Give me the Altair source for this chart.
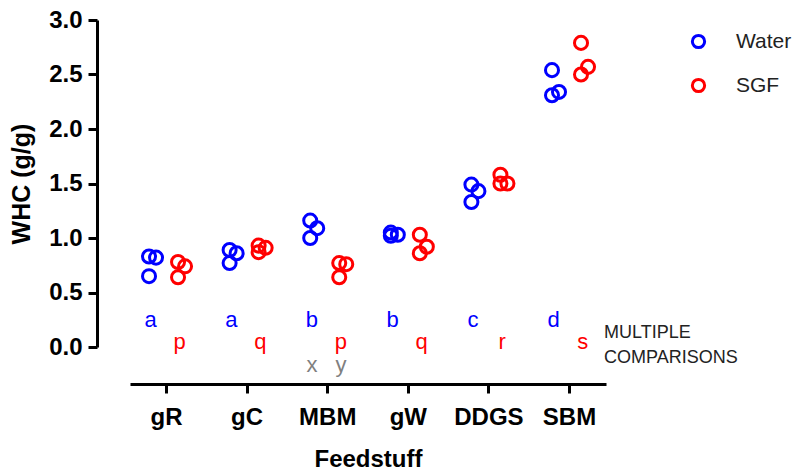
import altair as alt
import pandas as pd

# ---- data ----
feeds = ["gR", "gC", "MBM", "gW", "DDGS", "SBM"]
water = [[0.83, 0.82, 0.65], [0.89, 0.86, 0.77], [1.16, 1.09, 1.00],
         [1.05, 1.03, 1.02], [1.49, 1.43, 1.33], [2.54, 2.34, 2.31]]
sgf = [[0.78, 0.74, 0.64], [0.93, 0.91, 0.87], [0.77, 0.76, 0.64],
       [1.03, 0.92, 0.86], [1.58, 1.50, 1.50], [2.79, 2.57, 2.50]]
groups = ["Water", "SGF"]
water_letters = ["a", "a", "b", "b", "c", "d"]
sgf_letters = ["p", "q", "p", "q", "r", "s"]
extra_letters = [("MBM", "Water", "x"), ("MBM", "SGF", "y")]
note_lines = ["MULTIPLE", "COMPARISONS"]
y_ticks = [0, 0.5, 1.0, 1.5, 2.0, 2.5, 3.0]

FONT = "Liberation Sans"
BLUE, RED, GRAY = "#0000FF", "#FF0000", "#808080"

rows = []
for i, f in enumerate(feeds):
    for g, vals in (("Water", water[i]), ("SGF", sgf[i])):
        for r, v in enumerate(vals):
            rows.append({"feed": f, "idx": i, "group": g, "rep": r, "whc": v})
pts = pd.DataFrame(rows)

lrows = []
for i, f in enumerate(feeds):
    lrows.append({"idx": i, "group": "Water", "row": 0, "txt": water_letters[i], "col": BLUE})
    lrows.append({"idx": i, "group": "SGF", "row": 1, "txt": sgf_letters[i], "col": RED})
for f, g, t in extra_letters:
    lrows.append({"idx": feeds.index(f), "group": g, "row": 2, "txt": t, "col": GRAY})
letters = pd.DataFrame(lrows)

note = pd.DataFrame([{"xpos": 5.434, "ypos": 0.083, "txt": note_lines}])

xscale = alt.Scale(domain=[-0.447, 5.459], nice=False, zero=False)
yscale = alt.Scale(domain=[0, 3], nice=False, zero=False)

label_expr = "[" + ",".join("'%s'" % f for f in feeds) + "][datum.value]"

x_axis = alt.Axis(values=list(range(len(feeds))), labelExpr=label_expr, title="Feedstuff",
                  offset=37, grid=False, tickSize=9, tickWidth=3, domainWidth=3,
                  domainColor="black", tickColor="black", labelColor="black",
                  labelFont=FONT, labelFontSize=24, labelFontWeight="bold",
                  labelPadding=12, labelFlush=False, labelOverlap=False,
                  titleFont=FONT, titleFontSize=24, titleFontWeight="bold",
                  titleColor="black", titlePadding=18)
y_axis = alt.Axis(values=y_ticks, format=".1f", title="WHC (g/g)", offset=33,
                  grid=False, tickSize=9, tickWidth=3, domainWidth=3,
                  domainColor="black", tickColor="black", labelColor="black",
                  labelFont=FONT, labelFontSize=24, labelFontWeight="bold",
                  labelPadding=6, labelFlush=False, labelOverlap=False,
                  titleFont=FONT, titleFontSize=25, titleFontWeight="bold",
                  titleColor="black", titlePadding=14)

points = alt.Chart(pts).transform_calculate(
    xpos="datum.idx + (datum.group == 'Water' ? -0.211 : 0.149) + (datum.rep == 1 ? 0.087 : 0)"
).mark_point(filled=False, size=170, strokeWidth=3, opacity=1).encode(
    x=alt.X("xpos:Q", scale=xscale, axis=x_axis),
    y=alt.Y("whc:Q", scale=yscale, axis=y_axis),
    color=alt.Color("group:N", scale=alt.Scale(domain=groups, range=[BLUE, RED]),
                    legend=alt.Legend(title=None, orient="none", legendX=558, legendY=11,
                                      symbolType="circle", symbolSize=150,
                                      symbolStrokeWidth=3, labelFont=FONT,
                                      labelFontSize=21, labelColor="#222222",
                                      labelOffset=27, rowPadding=19, padding=0)),
)

letter_layer = alt.Chart(letters).transform_calculate(
    xpos="datum.idx + (datum.group == 'Water' ? -0.19 : 0.17)",
    ypos="datum.row == 0 ? 0.18 : (datum.row == 1 ? -0.014 : -0.23)",
).mark_text(font=FONT, fontSize=22, baseline="alphabetic", align="center").encode(
    x=alt.X("xpos:Q", scale=xscale),
    y=alt.Y("ypos:Q", scale=yscale),
    text="txt:N",
    color=alt.Color("col:N", scale=None),
)

note_layer = alt.Chart(note).mark_text(
    font=FONT, fontSize=18, baseline="alphabetic", align="left", lineHeight=25,
    color="#222222"
).encode(
    x=alt.X("xpos:Q", scale=xscale),
    y=alt.Y("ypos:Q", scale=yscale),
    text="txt",
)

chart = alt.layer(points, letter_layer, note_layer).properties(
    width=476, height=327,
    autosize=alt.AutoSizeParams(type="none"),
    padding={"left": 130, "top": 20, "right": 194, "bottom": 127},
    background="white",
).configure_view(stroke=None)

chart.save("out.html", embed_options={"renderer": "svg", "actions": False})
